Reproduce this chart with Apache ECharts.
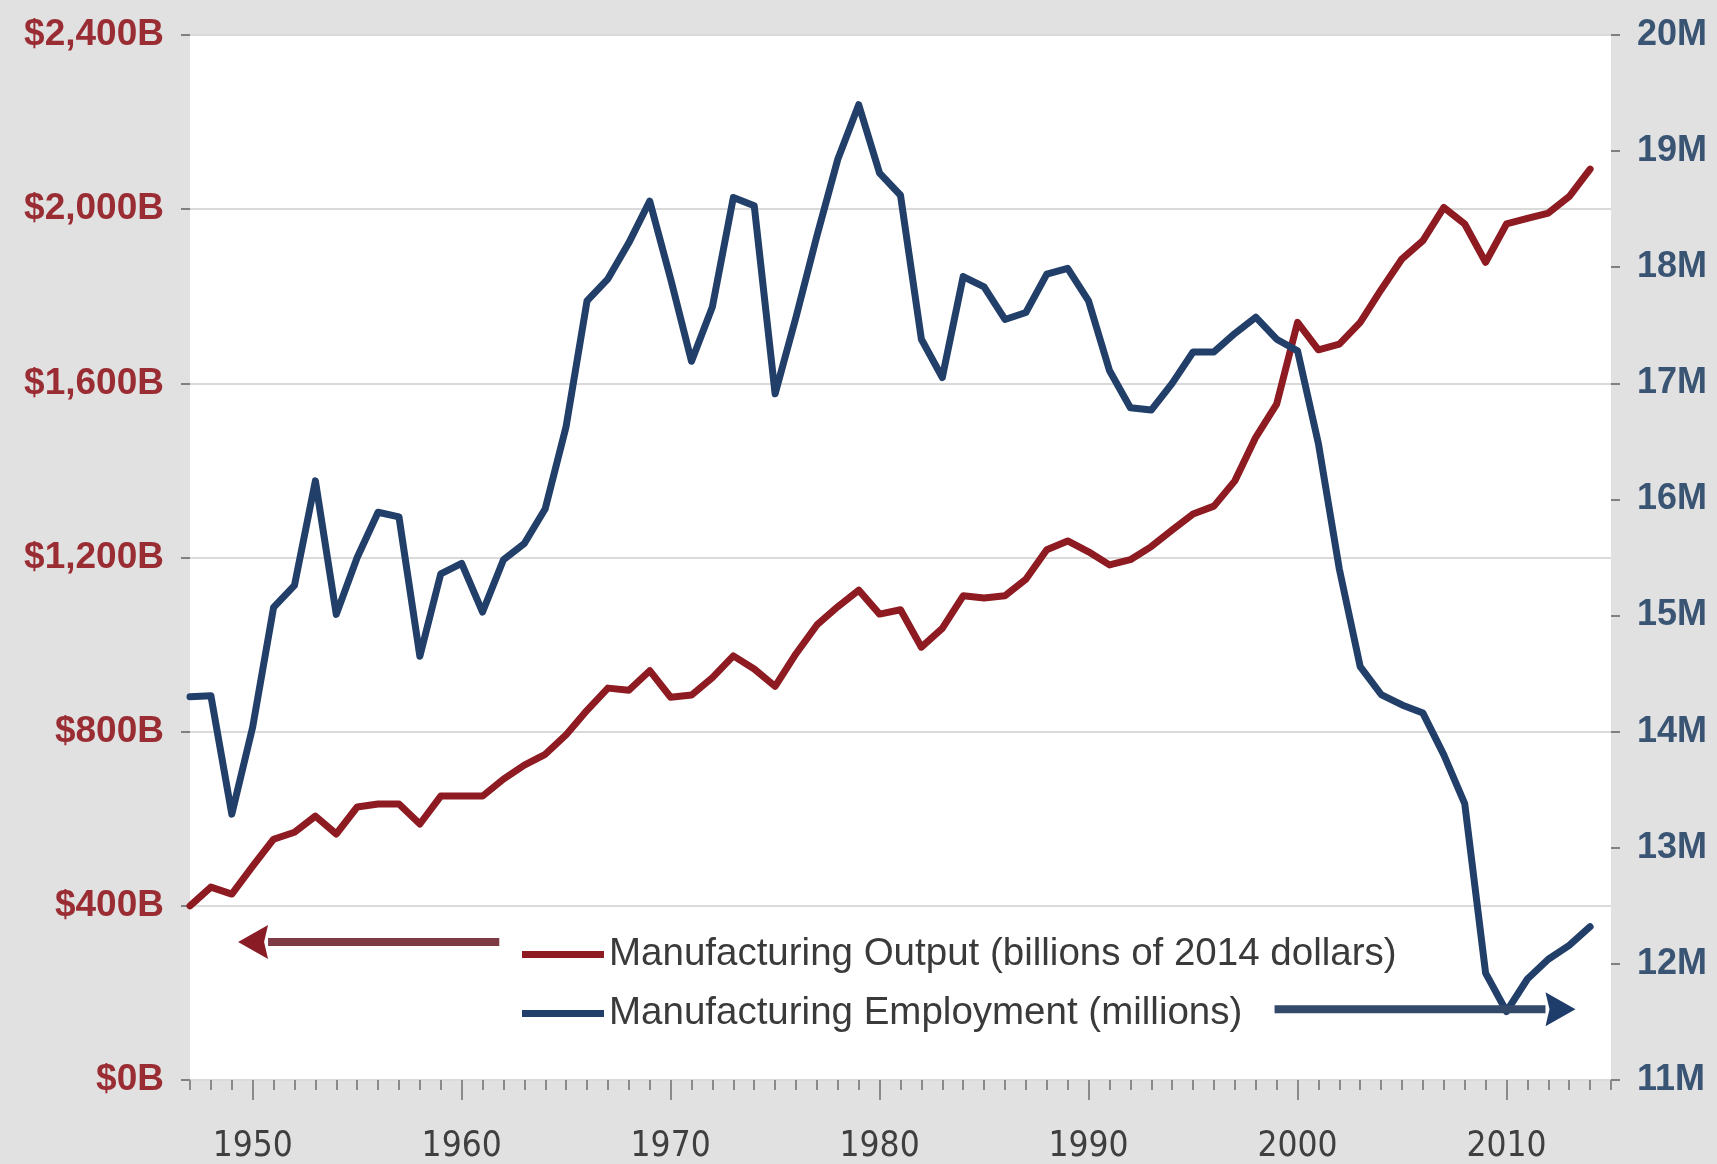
<!DOCTYPE html>
<html>
<head>
<meta charset="utf-8">
<title>Manufacturing Output and Employment</title>
<script src="https://cdn.jsdelivr.net/npm/echarts@6/dist/echarts.min.js"></script>
<style>
  html, body { margin: 0; padding: 0; background: #e1e1e1; }
  #chart { width: 1717px; height: 1164px; }
</style>
</head>
<body>
<div id="chart"></div>
<script>
// Years on the horizontal axis (2015 closes the axis, no data there)
const years = ['1947','1948','1949','1950','1951','1952','1953','1954','1955','1956',
  '1957','1958','1959','1960','1961','1962','1963','1964','1965','1966',
  '1967','1968','1969','1970','1971','1972','1973','1974','1975','1976',
  '1977','1978','1979','1980','1981','1982','1983','1984','1985','1986',
  '1987','1988','1989','1990','1991','1992','1993','1994','1995','1996',
  '1997','1998','1999','2000','2001','2002','2003','2004','2005','2006',
  '2007','2008','2009','2010','2011','2012','2013','2014','2015'];

// Manufacturing output, billions of 2014 dollars, 1947-2014
const outputBillions = [400, 443, 427, 491, 553, 569, 606, 565, 627, 634,
  634, 588, 652, 652, 652, 691, 723, 748, 793, 849,
  900, 895, 940, 879, 884, 924, 974, 944, 904, 979,
  1045, 1087, 1125, 1070, 1080, 994, 1037, 1112, 1107, 1112,
  1150, 1218, 1238, 1213, 1183, 1195, 1225, 1263, 1300, 1318,
  1376, 1476, 1552, 1740, 1677, 1690, 1740, 1815, 1886, 1928,
  2004, 1966, 1878, 1966, 1979, 1991, 2029, 2092];

// Manufacturing employment, millions of jobs, 1947-2014
const employmentMillions = [14.30, 14.31, 13.29, 14.04, 15.07, 15.26, 16.16, 15.01, 15.50, 15.89,
  15.85, 14.65, 15.36, 15.45, 15.03, 15.48, 15.62, 15.92, 16.63, 17.71,
  17.90, 18.21, 18.57, 17.90, 17.19, 17.66, 18.60, 18.53, 16.91, 17.57,
  18.27, 18.93, 19.40, 18.81, 18.62, 17.38, 17.05, 17.92, 17.83, 17.55,
  17.61, 17.94, 17.99, 17.71, 17.11, 16.79, 16.77, 17.00, 17.27, 17.27,
  17.43, 17.57, 17.38, 17.28, 16.48, 15.40, 14.56, 14.32, 14.23, 14.16,
  13.80, 13.38, 11.92, 11.59, 11.87, 12.04, 12.16, 12.32];

const OUTPUT_NAME = 'Manufacturing Output (billions of 2014 dollars)';
const EMPLOY_NAME = 'Manufacturing Employment (millions)';

const RED = '#8e1b22';
const BLUE = '#213f69';
const FONT = '"Liberation Sans", Arial, sans-serif';
const CONDENSED = '"DejaVu Sans Condensed", "Liberation Sans", Arial, sans-serif';

const chart = echarts.init(document.getElementById('chart'), null, { renderer: 'canvas' });

const legendText = { fontFamily: FONT, fontSize: 38.5, color: '#3a3a3a' };

const option = {
  backgroundColor: '#e1e1e1',
  animation: false,
  grid: {
    left: 190, right: 106, top: 35, bottom: 83,
    show: true, backgroundColor: '#ffffff', borderWidth: 0
  },
  legend: [
    {
      data: [OUTPUT_NAME],
      left: 517, top: 930,
      icon: 'rect', itemWidth: 82, itemHeight: 7, itemGap: 8,
      textStyle: legendText,
      selectedMode: false
    },
    {
      data: [EMPLOY_NAME],
      left: 517, top: 989,
      icon: 'rect', itemWidth: 82, itemHeight: 7, itemGap: 8,
      textStyle: legendText,
      selectedMode: false
    }
  ],
  xAxis: [
    {
      type: 'category',
      data: years,
      boundaryGap: false,
      axisLine: { show: false },
      axisTick: {
        show: true, inside: false, length: 10, interval: 0,
        lineStyle: { color: '#8a8a8a', width: 2 }
      },
      axisLabel: {
        interval: (i, v) => Number(v) % 10 === 0,
        margin: 49,
        fontFamily: CONDENSED, fontSize: 35, color: '#3f3f3f'
      },
      splitLine: { show: false }
    },
    {
      // longer ticks marking each decade
      type: 'category',
      data: years,
      position: 'bottom',
      boundaryGap: false,
      axisLine: { show: false },
      axisTick: {
        show: true, length: 20,
        interval: (i, v) => Number(v) % 10 === 0,
        lineStyle: { color: '#8a8a8a', width: 2 }
      },
      axisLabel: { show: false },
      splitLine: { show: false }
    }
  ],
  yAxis: [
    {
      type: 'value',
      min: 0, max: 2400, interval: 400,
      position: 'left',
      axisLine: { show: false },
      axisTick: { show: true, length: 9, lineStyle: { color: '#808080', width: 2 } },
      axisLabel: {
        margin: 26,
        fontFamily: FONT, fontSize: 37, fontWeight: 'bold', color: '#9a2d33',
        formatter: v => '$' + v.toLocaleString('en-US') + 'B'
      },
      splitLine: { show: true, lineStyle: { color: '#dadada', width: 2 } }
    },
    {
      type: 'value',
      min: 11, max: 20, interval: 1,
      position: 'right',
      axisLine: { show: false },
      axisTick: { show: true, length: 9, lineStyle: { color: '#808080', width: 2 } },
      axisLabel: {
        margin: 26,
        fontFamily: FONT, fontSize: 36, fontWeight: 'bold', color: '#3a5474',
        formatter: v => v + 'M'
      },
      splitLine: { show: false }
    }
  ],
  series: [
    {
      name: OUTPUT_NAME,
      type: 'line',
      xAxisIndex: 0, yAxisIndex: 0,
      data: outputBillions,
      showSymbol: false,
      lineStyle: { color: RED, width: 7, join: 'round', cap: 'round' },
      itemStyle: { color: RED },
      z: 3
    },
    {
      name: EMPLOY_NAME,
      type: 'line',
      xAxisIndex: 0, yAxisIndex: 1,
      data: employmentMillions,
      showSymbol: false,
      lineStyle: { color: BLUE, width: 7, join: 'round', cap: 'round' },
      itemStyle: { color: BLUE },
      z: 3
    }
  ]
};

chart.setOption(option);

// Pixel position of a (fractional) year and a value on the given y axis
function toPixel(year, value, yAxisIndex) {
  const first = chart.convertToPixel({ xAxisIndex: 0, yAxisIndex }, [years[0], value]);
  const last = chart.convertToPixel({ xAxisIndex: 0, yAxisIndex }, [years[years.length - 1], value]);
  const span = Number(years[years.length - 1]) - Number(years[0]);
  return [first[0] + (last[0] - first[0]) * (year - Number(years[0])) / span, first[1]];
}

// Arrow pointing from the legend entry toward the axis the series uses
function arrow(fromYear, toYear, value, yAxisIndex, shaftColor, headColor) {
  const a = toPixel(fromYear, value, yAxisIndex);
  const b = toPixel(toYear, value, yAxisIndex);
  const dir = Math.sign(b[0] - a[0]);
  const headLen = 30, headHalf = 17;
  const baseX = b[0] - dir * headLen;
  return [
    {
      type: 'line',
      shape: { x1: a[0], y1: a[1], x2: baseX, y2: b[1] },
      style: { stroke: shaftColor, lineWidth: 8 },
      z: 10
    },
    {
      type: 'polygon',
      shape: { points: [[b[0], b[1]], [baseX, b[1] - headHalf], [baseX + dir * 4, b[1]], [baseX, b[1] + headHalf]] },
      style: { fill: headColor },
      z: 10
    }
  ];
}

chart.setOption({
  graphic: [
    ...arrow(1961.8, 1949.3, 317, 0, '#7e3a45', '#8a1c26'),
    ...arrow(1998.9, 2013.3, 11.61, 1, '#34496a', '#1f3d6b')
  ]
});
</script>
</body>
</html>
